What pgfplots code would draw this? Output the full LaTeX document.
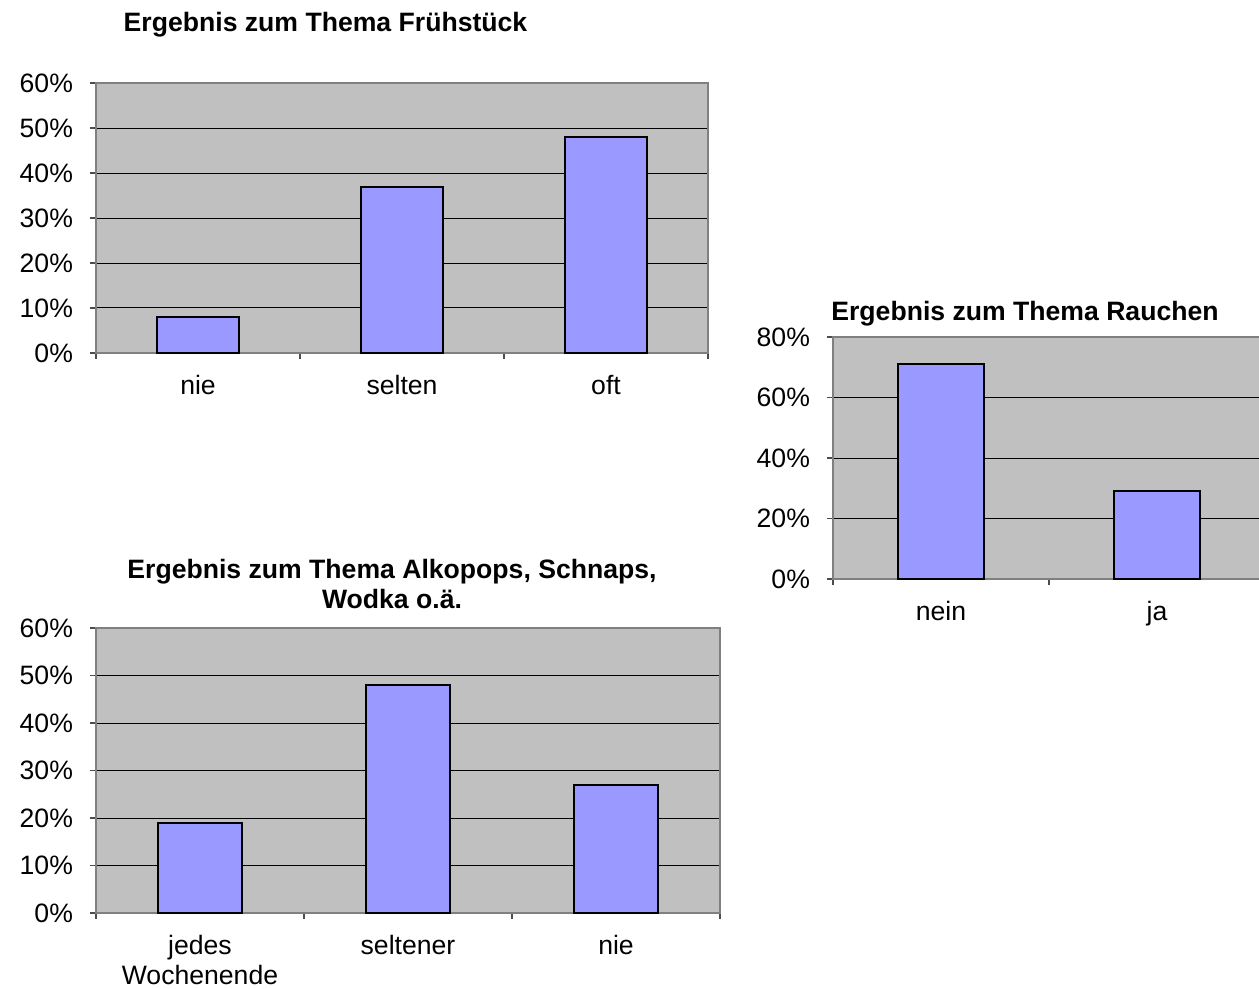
\documentclass[border=0pt]{standalone}
\usepackage{fontspec}
\setmainfont{Liberation Sans}
\usepackage{pgfplots}
\pgfplotsset{compat=1.18}
\definecolor{barblue}{HTML}{9999FF}
\definecolor{plotgray}{HTML}{C0C0C0}
\pgfplotsset{
  xlchart/.style={
    scale only axis,
    anchor=south west,
    axis background/.style={fill=plotgray},
    ybar, bar width=0.4,
    ymin=0,
    xtick=data,
    /pgf/number format/assume math mode=true,
    major x tick style={draw=none},
    minor tick length=3pt,
    major tick length=3pt,
    tick align=outside,
    tick style={black!70, line width=0.6pt},
    ymajorgrids,
    grid style={black, line width=0.5pt},
    axis line style={black!50, line width=0.8pt},
    xtick pos=bottom, ytick pos=left,
    tick label style={font=\fontsize{13.3}{15}\selectfont},
    yticklabel={\pgfmathprintnumber{\tick}\%},
    yticklabel style={xshift=-5pt},
    xticklabel style={align=center, yshift=-4.5pt},
    clip=false,
  },
  barstyle/.style={fill=barblue, draw=black, line width=1pt},
}
\begin{document}
\begin{tikzpicture}
\useasboundingbox (0pt,0pt) rectangle (629.5pt,-494.5pt);

% Chart 1: Fruehstueck
\node[font=\fontsize{13.3}{15}\selectfont\bfseries] at (162.75pt,-12.5pt) {Ergebnis zum Thema Frühstück};
\begin{axis}[xlchart,
  at={(48pt,-176.5pt)}, width=306pt, height=135pt,
  xmin=-0.5, xmax=2.5, ymax=60, ytick={0,10,...,60},
  xticklabels={nie,selten,oft},
  minor xtick={-0.5,0.5,1.5,2.5}]
\addplot[barstyle] coordinates {(0,8) (1,37) (2,48)};
\end{axis}

% Chart 2: Rauchen
\node[font=\fontsize{13.3}{15}\selectfont\bfseries] at (512.5pt,-157pt) {Ergebnis zum Thema Rauchen};
\begin{axis}[xlchart,
  at={(416.5pt,-289.5pt)}, width=216pt, height=121pt,
  xmin=-0.5, xmax=1.5, ymax=80, ytick={0,20,...,80},
  xticklabels={nein,ja},
  minor xtick={-0.5,0.5,1.5}]
\addplot[barstyle] coordinates {(0,71) (1,29)};
\end{axis}

% Chart 3: Alkopops
\node[font=\fontsize{13.3}{15}\selectfont\bfseries, align=center] at (196pt,-292pt) {Ergebnis zum Thema Alkopops, Schnaps,\\Wodka o.ä.};
\begin{axis}[xlchart,
  at={(48pt,-456.5pt)}, width=312pt, height=142.5pt,
  xmin=-0.5, xmax=2.5, ymax=60, ytick={0,10,...,60},
  xticklabels={{jedes\\Wochenende},seltener,nie},
  minor xtick={-0.5,0.5,1.5,2.5}]
\addplot[barstyle] coordinates {(0,19) (1,48) (2,27)};
\end{axis}
\end{tikzpicture}
\end{document}
